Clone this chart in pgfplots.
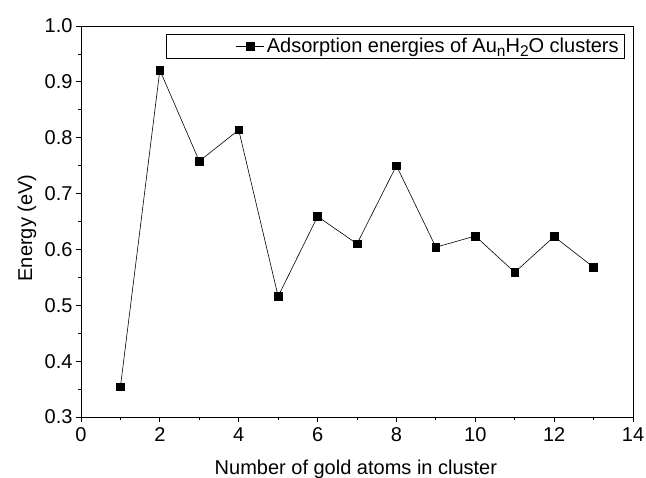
\documentclass[border=0pt]{standalone}
\usepackage{fontspec}
\setmainfont{Liberation Sans}
\usepackage{pgfplots}
\pgfplotsset{compat=1.18}
\newcommand\sub[1]{\raisebox{-0.32ex}{\fontsize{15.5bp}{16bp}\selectfont #1}}
\begin{document}
\begin{tikzpicture}[font=\fontsize{20bp}{24bp}\selectfont]
\useasboundingbox (0,0) rectangle (646bp,478bp);
\begin{axis}[
  at={(81bp,61bp)}, anchor=south west,
  scale only axis, width=552bp, height=391bp,
  xmin=0, xmax=14, ymin=0.3, ymax=1.0,
  xtick={0,2,...,14}, ytick={0.3,0.4,...,1.0},
  minor x tick num=1, minor y tick num=1,
  tick pos=left, tick align=outside,
  major tick length=5bp, minor tick length=3bp,
  every tick/.style={black, line width=0.8bp},
  axis line style={black, line width=0.9bp},
  /pgf/number format/assume math mode=true,
  tick label style={font=\fontsize{20bp}{24bp}\selectfont},
  yticklabel style={/pgf/number format/fixed, /pgf/number format/fixed zerofill, /pgf/number format/precision=1},
  xticklabel style={/pgf/number format/fixed, yshift=-2bp},
  xlabel={Number of gold atoms in cluster},
  ylabel={Energy (eV)},
  every axis x label/.style={at={(axis description cs:0.498,-0.1483)}, anchor=base, font=\fontsize{20bp}{24bp}\selectfont},
  every axis y label/.style={at={(axis description cs:-0.0978,0.4834)}, anchor=center, rotate=90, font=\fontsize{20bp}{24bp}\selectfont},
  legend style={at={(axis description cs:0.9855,0.9795)}, anchor=north east, draw=black, line width=0.7bp, inner xsep=4bp, inner ysep=2bp, nodes={inner sep=2bp}, font=\fontsize{20bp}{24bp}\selectfont},
  legend image code/.code={\path (-66bp,0); \draw[#1,mark repeat=2,mark phase=2] plot coordinates {(0bp,0bp) (14bp,0bp) (28bp,0bp)};},
]
\addplot[black, line width=0.6bp, mark=square*, mark size=3.8bp, mark options={solid, fill=black}]
coordinates {
(1,0.354) (2,0.921) (3,0.758) (4,0.814) (5,0.516) (6,0.659) (7,0.610)
(8,0.750) (9,0.604) (10,0.624) (11,0.559) (12,0.623) (13,0.568)
};
\addlegendentry{Adsorption energies of Au\sub{n}H\sub{2}O clusters}
\end{axis}
\end{tikzpicture}
\end{document}
